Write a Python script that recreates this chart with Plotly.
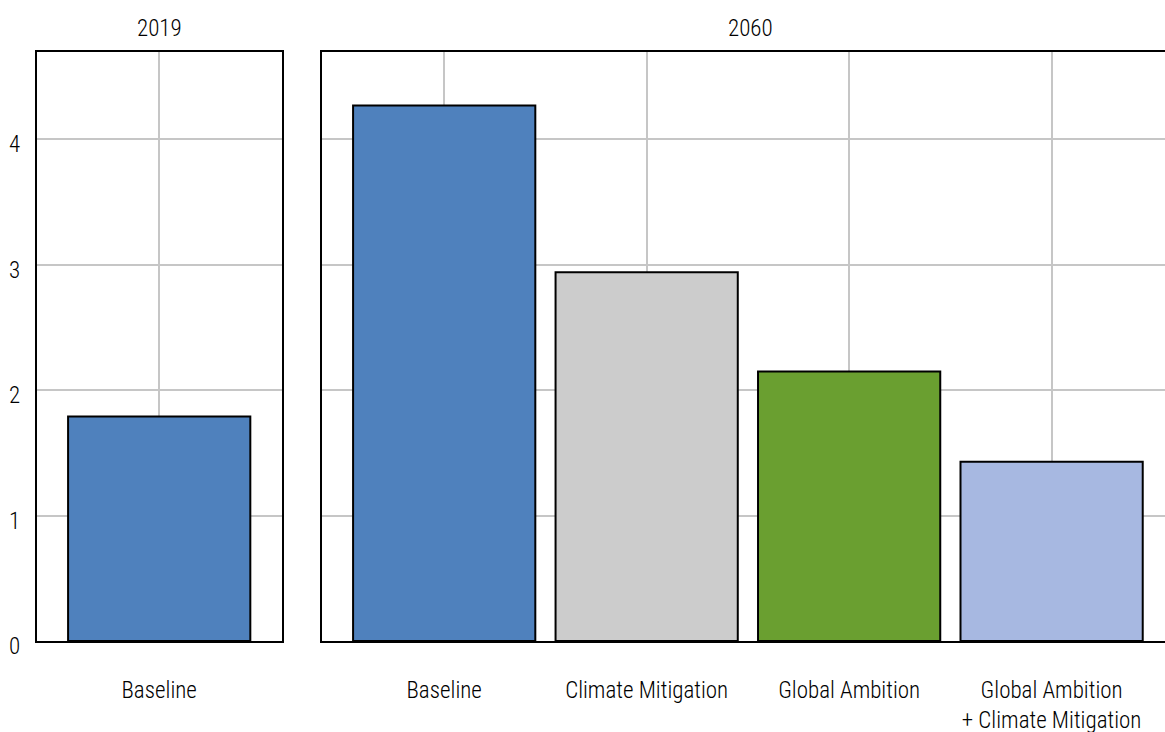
import plotly.graph_objects as go

# Data
panel_2019_categories = ["Baseline"]
panel_2019_values = [1.79]
panel_2060_categories = ["Baseline", "Climate Mitigation", "Global Ambition", "Global Ambition<br>+ Climate Mitigation"]
panel_2060_values = [4.27, 2.94, 2.15, 1.43]
panel_titles = ["2019", "2060"]
colors_2019 = ["#4F81BD"]
colors_2060 = ["#4F81BD", "#CCCCCC", "#6A9F30", "#A7B8E1"]
y_ticks = [0, 1, 2, 3, 4]

W, H = 1165, 732
FONT = "Roboto Condensed, Liberation Sans Narrow, Arial Narrow, Liberation Sans, Arial, sans-serif"
FS = 23
WEIGHT = 300

fig = go.Figure()
fig.add_trace(go.Bar(x=panel_2019_categories, y=panel_2019_values, width=0.9,
                     marker=dict(color=colors_2019, line=dict(color="black", width=2)),
                     xaxis="x", yaxis="y", showlegend=False))
fig.add_trace(go.Bar(x=panel_2060_categories, y=panel_2060_values, width=0.9,
                     marker=dict(color=colors_2060, line=dict(color="black", width=2)),
                     xaxis="x2", yaxis="y2", showlegend=False))

grid = "#C6C6C6"
left_dom = [36.7 / W, 281.7 / W]
right_dom = [321.7 / W, 1.0]
tfont = dict(size=FS, color="black", family=FONT, weight=WEIGHT)

xcommon = dict(type="category", showgrid=True, gridcolor=grid, gridwidth=1.5,
               showline=True, linecolor="black", linewidth=2, mirror=True,
               ticks="outside", ticklen=0, tickcolor="white",
               ticklabelstandoff=27, tickfont=tfont,
               zeroline=False, fixedrange=True)
ycommon = dict(range=[0, 4.697], tickvals=y_ticks, showgrid=True, gridcolor=grid, gridwidth=1.5,
               showline=True, linecolor="black", linewidth=2, zeroline=False,
               tickfont=tfont, fixedrange=True)

fig.update_layout(
    width=W, height=H,
    margin=dict(l=0, r=0, t=52, b=91, autoexpand=False),
    paper_bgcolor="white", plot_bgcolor="white",
    font=dict(family=FONT, size=FS, color="black", weight=WEIGHT),
    xaxis=dict(xcommon, domain=left_dom, range=[-0.605, 0.605], anchor="y"),
    xaxis2=dict(xcommon, domain=right_dom, range=[-0.605, 3.56], anchor="y2"),
    yaxis=dict(ycommon, anchor="x", mirror=True, ticks="outside", ticklen=0, tickcolor="white",
               ticklabelstandoff=10, ticklabelshift=5),
    yaxis2=dict(ycommon, anchor="x2", mirror=False, showticklabels=False, matches="y"),
    bargap=0.1,
    annotations=[
        dict(text=panel_titles[0], x=159 / W, y=1, xref="paper", yref="paper",
             xanchor="center", yanchor="bottom", yshift=8, showarrow=False, font=tfont),
        dict(text=panel_titles[1], x=750 / W, y=1, xref="paper", yref="paper",
             xanchor="center", yanchor="bottom", yshift=8, showarrow=False, font=tfont),
    ],
)

fig.write_html("out.html", config={"displayModeBar": False},
               post_script="document.body.style.margin='0';document.body.style.overflow='hidden';")
